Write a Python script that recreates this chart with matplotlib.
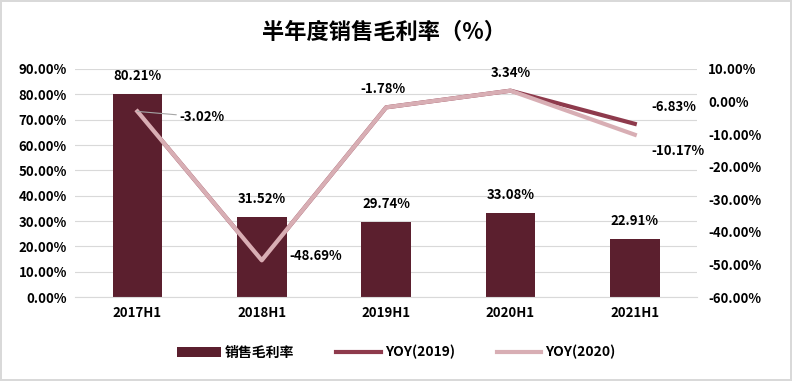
import matplotlib.pyplot as plt
import matplotlib.ticker as mticker
import numpy as np

plt.rcParams['font.family'] = ['Noto Sans CJK SC', 'DejaVu Sans']

categories = ['2017H1', '2018H1', '2019H1', '2020H1', '2021H1']
gross_margin = [80.21, 31.52, 29.74, 33.08, 22.91]
yoy_2019 = [-3.02, -48.69, -1.78, 3.34, -6.83]
yoy_2020 = [-3.02, -48.69, -1.78, 3.34, -10.17]

bar_color = '#5B1F2E'
c2019 = '#8E3A4C'
c2020 = '#D8AEB4'

fig = plt.figure(figsize=(7.92, 3.81), dpi=100)
fig.patch.set_edgecolor('#D9D9D9')
fig.patch.set_linewidth(1.5)
ax = fig.add_axes([0.095, 0.22, 0.785, 0.599])
ax2 = ax.twinx()

x = np.arange(len(categories))
ax.bar(x, gross_margin, width=0.4, color=bar_color, label='销售毛利率', zorder=2)
ax.set_ylim(0, 90)
ax.set_xlim(-0.5, len(categories) - 0.5)
ax.yaxis.set_major_locator(mticker.MultipleLocator(10))
ax.yaxis.set_major_formatter(mticker.FuncFormatter(lambda v, p: f'{v:.2f}%'))
ax.grid(axis='y', color='#D9D9D9', linewidth=0.8, zorder=0)
ax.set_axisbelow(True)
ax.set_xticks(x)
ax.set_xticklabels(categories, fontweight='bold', fontsize=9.5)
for lbl in ax.get_yticklabels():
    lbl.set_fontweight('bold')
    lbl.set_fontsize(9.5)
ax.tick_params(length=0, pad=6)
for s in ax.spines.values():
    s.set_visible(False)
ax.spines['bottom'].set_visible(True)
ax.spines['bottom'].set_color('#D9D9D9')

l19, = ax2.plot(x, yoy_2019, color=c2019, linewidth=3, label='YOY(2019)', zorder=3)
l20, = ax2.plot(x, yoy_2020, color=c2020, linewidth=3, label='YOY(2020)', zorder=4)
ax2.set_ylim(-60, 10)
ax2.yaxis.set_major_locator(mticker.MultipleLocator(10))
ax2.yaxis.set_major_formatter(mticker.FuncFormatter(lambda v, p: f'{v:.2f}%'))
for lbl in ax2.get_yticklabels():
    lbl.set_fontweight('bold')
    lbl.set_fontsize(9.5)
ax2.tick_params(length=0, pad=8)
for s in ax2.spines.values():
    s.set_visible(False)

# bar labels
for i, v in enumerate(gross_margin):
    ax.annotate(f'{v:.2f}%', (x[i], v), xytext=(0, 8), textcoords='offset points',
                ha='center', va='bottom', fontsize=9.5, fontweight='bold')

# line labels
lab_kw = dict(textcoords='offset points', fontsize=9.5, fontweight='bold', zorder=6)
ax2.annotate(f'{yoy_2020[0]:.2f}%', (x[0], yoy_2020[0]), xytext=(30, -4), ha='left', va='center',
             arrowprops=dict(arrowstyle='-', color='#A6A6A6', lw=0.8, shrinkA=0, shrinkB=0), **lab_kw)
ax2.annotate(f'{yoy_2020[1]:.2f}%', (x[1], yoy_2020[1]), xytext=(20, 3), ha='left', va='center', **lab_kw)
ax2.annotate(f'{yoy_2020[2]:.2f}%', (x[2], yoy_2020[2]), xytext=(-2, 8), ha='center', va='bottom', **lab_kw)
ax2.annotate(f'{yoy_2020[3]:.2f}%', (x[3], yoy_2020[3]), xytext=(0, 8), ha='center', va='bottom', **lab_kw)
ax2.annotate(f'{yoy_2019[4]:.2f}%', (x[4], yoy_2019[4]), xytext=(12, 7), ha='left', va='bottom', **lab_kw)
ax2.annotate(f'{yoy_2020[4]:.2f}%', (x[4], yoy_2020[4]), xytext=(12, -7), ha='left', va='top', **lab_kw)

fig.suptitle('半年度销售毛利率（%）', x=0.485, y=0.945, fontsize=16, fontweight='bold')

h1, lb1 = ax.get_legend_handles_labels()
fig.legend(h1 + [l19, l20], lb1 + ['YOY(2019)', 'YOY(2020)'], loc='center', bbox_to_anchor=(0.5, 0.075),
           ncol=3, frameon=False, prop={'weight': 'bold', 'size': 10}, handlelength=3.2,
           columnspacing=3, handletextpad=0.3)

fig.savefig('out.png', dpi=100)
